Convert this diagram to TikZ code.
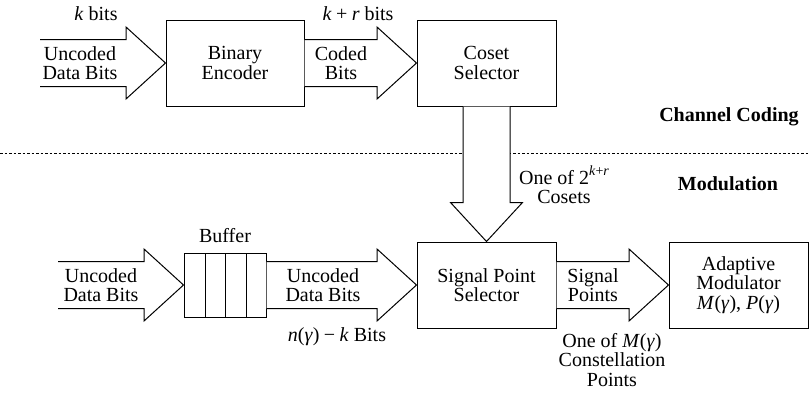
\documentclass[tikz,border=0pt]{standalone}
\usepackage{fontspec}
\setmainfont{Liberation Serif}
\usetikzlibrary{calc}
\newcommand\hbarrow[2]{%
  \draw[barrow] let \p1=(#1), \p2=(#2) in
    (\x1,\y1+23.5pt) -- (\x2-39.5pt,\y1+23.5pt) -- (\x2-39.5pt,\y1+36pt) -- (\x2,\y1)
    -- (\x2-39.5pt,\y1-36pt) -- (\x2-39.5pt,\y1-23.5pt) -- (\x1,\y1-23.5pt);}
\newcommand\mop[1]{\hspace{0.22em}#1\hspace{0.22em}}
\begin{document}
\begin{tikzpicture}[x=1pt,y=-1pt,
  every node/.style={font=\fontsize{20}{19.5}\selectfont, inner sep=0pt},
  blk/.style={draw, line width=1pt, align=center, minimum width=139pt, minimum height=86pt},
  barrow/.style={draw, fill=white, line width=1pt, line join=miter},
  lbl/.style={align=center},
  hdr/.style={font=\fontsize{20}{20}\selectfont\bfseries}]
\useasboundingbox (0,0) rectangle (809,392);
% separator
\draw[line width=0.9pt, dash pattern=on 2.5pt off 2pt] (0,153) -- (809,153);
% blocks
\node[blk, minimum width=138pt] (enc) at (235,63) {Binary\\Encoder};
\node[blk] (cos) at (486.5,63) {Coset\\Selector};
\node[blk] (sps) at (486.5,285) {Signal Point\\Selector};
\node[blk] (mod) at (738.5,285) {Adaptive\\Modulator\\\textit{M}(\textit{γ}), \textit{P}(\textit{γ})};
\node[draw, line width=1pt, minimum width=82pt, minimum height=64pt] (buf) at (225,285) {};
\foreach \xx in {205,225.5,246} \draw[line width=1pt] (\xx,253) -- (\xx,317);
% free ends
\coordinate (in1) at (40,63);
\coordinate (in2) at (58,285);
% block arrows
\hbarrow{in1}{enc.west}
\hbarrow{enc.east}{cos.west}
\hbarrow{in2}{buf.west}
\hbarrow{buf.east}{sps.west}
\hbarrow{sps.east}{mod.west}
\draw[barrow] let \p1=(cos.south), \p2=(sps.north) in
  (\x1-23.5pt,\y1) -- (\x1-23.5pt,\y2+39pt) -- (\x1-36pt,\y2+39pt) -- (\x2,\y2)
  -- (\x1+36pt,\y2+39pt) -- (\x1+23.5pt,\y2+39pt) -- (\x1+23.5pt,\y1);
% labels
\node[lbl] (l1) at (96,14) {\textit{k} bits};
\node[lbl] (l2) at (358,14) {\textit{k}\mop{+}\textit{r} bits};
\node[lbl] (l3) at (80,63) {Uncoded\\Data Bits};
\node[lbl] (l4) at (341,63) {Coded\\Bits};
\node[hdr] (cc) at (729,117) {Channel Coding};
\node[hdr] (md) at (728,184) {Modulation};
\node[lbl] (l5) at (564,185) {One of 2\raisebox{0.42em}{\fontsize{14}{14}\selectfont\textit{k}+\textit{r}}\\Cosets};
\node[lbl] (l6) at (101,285) {Uncoded\\Data Bits};
\node[lbl] (l7) at (225,236) {Buffer};
\node[lbl] (l8) at (323,285) {Uncoded\\Data Bits};
\node[lbl] (l9) at (337,337) {\textit{n}(\textit{γ})\mop{−}\textit{k} Bits};
\node[lbl] (l10) at (593,285) {Signal\\Points};
\node[lbl] (l11) at (612,360) {One of \textit{M}(\textit{γ})\\Constellation\\Points};
\end{tikzpicture}
\end{document}
